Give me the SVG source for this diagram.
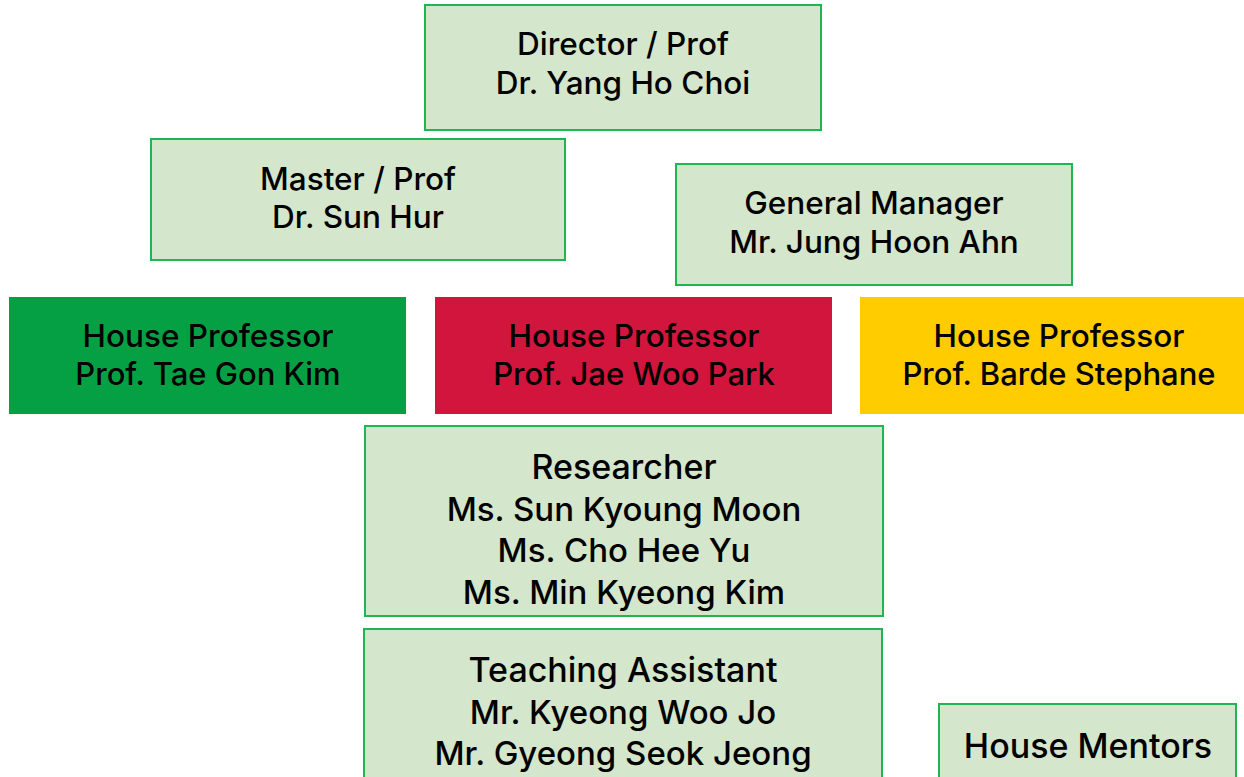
<svg xmlns="http://www.w3.org/2000/svg" width="1244" height="777" viewBox="0 0 1244 777">
<style>
.box{fill:#d4e6cb;stroke:#1fb552;stroke-width:2}
.t{font-family:Inter,"Noto Sans",sans-serif;font-size:31.5px;font-weight:500;fill:#000;text-anchor:middle}
.n{font-size:31px}
.L{font-size:34px}
.m{font-size:33px}
</style>
<rect width="1244" height="777" fill="#fff"/>
<g id="connectors"></g>
<g id="director"><rect class="box" x="425" y="5" width="396" height="125"/>
<text class="t" x="623" y="55">Director / Prof</text><text class="t" x="623" y="94">Dr. Yang Ho Choi</text></g>
<g id="master"><rect class="box" x="151" y="139" width="414" height="121"/>
<text class="t" x="358" y="190">Master / Prof</text><text class="t" x="358" y="228">Dr. Sun Hur</text></g>
<g id="gm"><rect class="box" x="676" y="164" width="396" height="121"/>
<text class="t" x="874" y="214">General Manager</text><text class="t" x="874" y="253">Mr. Jung Hoon Ahn</text></g>
<g id="hp-kim"><rect x="9" y="297" width="397" height="117" fill="#05a044"/>
<text class="t" x="208" y="347">House Professor</text><text class="t n" x="208" y="385">Prof. Tae Gon Kim</text></g>
<g id="hp-park"><rect x="435" y="297" width="397" height="117" fill="#d2153d"/>
<text class="t" x="634" y="347">House Professor</text><text class="t n" x="634" y="385">Prof. Jae Woo Park</text></g>
<g id="hp-stephane"><rect x="860" y="297" width="384" height="117" fill="#ffcc00"/>
<text class="t" x="1059" y="347">House Professor</text><text class="t n" x="1059" y="385">Prof. Barde Stephane</text></g>
<g id="researcher"><rect class="box" x="365" y="426" width="518" height="190"/>
<text class="t L" x="624" y="479">Researcher</text><text class="t m" x="624" y="521">Ms. Sun Kyoung Moon</text><text class="t m" x="624" y="562">Ms. Cho Hee Yu</text><text class="t m" x="624" y="604">Ms. Min Kyeong Kim</text></g>
<g id="ta"><rect class="box" x="364" y="629" width="518" height="160"/>
<text class="t L" x="623" y="682">Teaching Assistant</text><text class="t m" x="623" y="724">Mr. Kyeong Woo Jo</text><text class="t m" x="623" y="765">Mr. Gyeong Seok Jeong</text></g>
<g id="mentors"><rect class="box" x="939" y="704" width="297" height="90"/>
<text class="t L" x="1088" y="758">House Mentors</text></g>
</svg>
